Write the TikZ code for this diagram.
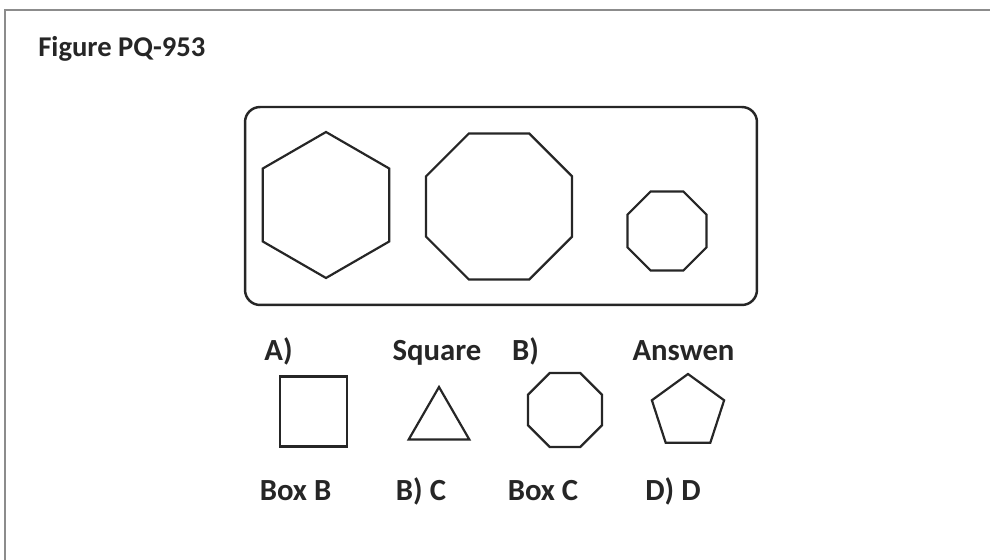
\documentclass[tikz,border=0pt]{standalone}
\usepackage{fontspec}
\setmainfont{Carlito}
\usepackage{tikz}
\usetikzlibrary{shapes.geometric,positioning}

\begin{document}
\begin{tikzpicture}[
    x=0.02cm, y=-0.02cm,
    shapeline/.style={draw=black!85, line width=1.25pt, inner sep=0pt, outer sep=0pt},
    poly/.style={shapeline, regular polygon, regular polygon sides=#1},
    label/.style={font=\fontsize{17.5}{20}\selectfont\bfseries, text=black!85, inner sep=0pt, anchor=base},
]
    \useasboundingbox (0,0) rectangle (990,560);
    % page edge
    \draw[black!45, line width=0.9pt] (5,560) -- (5,10) -- (990,10);

    \node[font=\fontsize{16.3}{19}\selectfont\bfseries, text=black!85, inner sep=0pt, anchor=base west] (title) at (38,57) {Figure PQ-953};

    % top panel
    \node[shapeline, line width=1.4pt, rounded corners=0.3cm, minimum width=10.24cm, minimum height=3.96cm] (panel) at (501,206) {};
    \node[poly=6, regular polygon rotate=30, minimum size=2.92cm] (hexa) at (326,205) {};
    \node[poly=8, minimum size=3.16cm] (octbig) at (499,206.5) {};
    \node[poly=8, minimum size=1.71cm] (octsmall) at (667,231) {};

    % options
    \node[label] (optA) at (278.5,360) {A)};
    \node[label] (square) at (437,360) {Square};
    \node[label] (optB) at (525.5,360) {B)};
    \node[label] (answen) at (683.5,360) {Answen};

    \node[shapeline, minimum width=1.34cm, minimum height=1.4cm] (sq) at (313.5,411.5) {};
    \node[poly=3, minimum size=1.4cm] (tri) at (439,422) {};
    \node[poly=8, minimum size=1.6cm] (oct) at (565,410) {};
    \node[poly=5, minimum size=1.52cm] (penta) at (688,412) {};

    \node[label] (boxB) at (295.5,500) {Box B};
    \node[label] (bc) at (421,500) {B) C};
    \node[label] (boxC) at (543,500) {Box C};
    \node[label] (dd) at (673,500) {D) D};
\end{tikzpicture}
\end{document}
